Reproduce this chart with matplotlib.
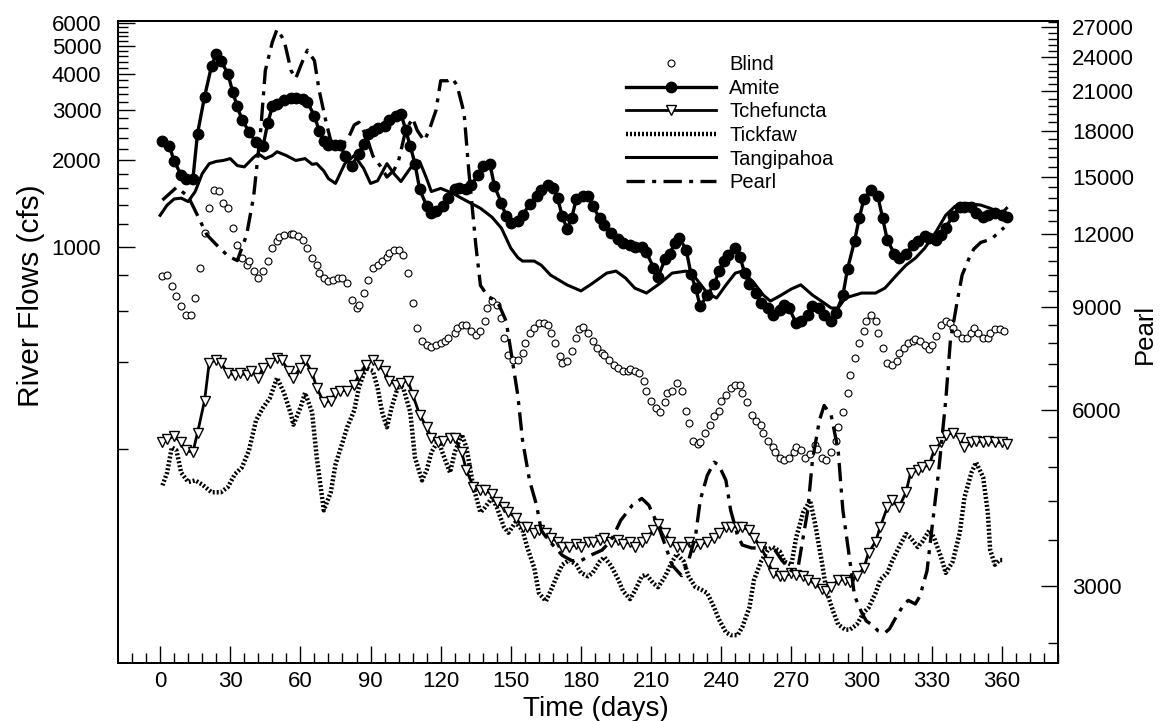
import matplotlib.pyplot as plt
from matplotlib.ticker import FixedLocator, FuncFormatter, NullFormatter

plt.rcParams['font.family'] = ['Liberation Sans', 'DejaVu Sans']

# daily river flows, cfs (Pearl on its own right-hand scale)
blind_day = [1, 3, 5, 7, 9, 11, 13, 15, 17, 19, 21, 23, 25, 27, 29, 31, 33, 35, 37, 38,
             40, 42, 44, 46, 48, 50, 51, 53, 56, 57, 59, 61, 63, 65, 67, 68, 70, 72, 74, 76,
             78, 80, 82, 84, 85, 87, 89, 91, 93, 95, 97, 98, 100, 102, 104, 106, 108, 110, 112, 114,
             116, 118, 120, 122, 123, 126, 127, 129, 131, 133, 135, 137, 139, 140, 142, 144, 146, 147, 149, 151,
             153, 155, 156, 158, 160, 162, 164, 166, 167, 169, 171, 172, 174, 176, 178, 179, 181, 183, 185, 187,
             189, 190, 192, 194, 196, 198, 200, 201, 203, 205, 207, 208, 210, 212, 214, 216, 217, 219, 221, 223,
             225, 226, 228, 230, 231, 233, 235, 237, 239, 240, 242, 244, 246, 248, 249, 251, 253, 255, 257, 258,
             260, 262, 263, 265, 267, 269, 271, 272, 274, 276, 278, 280, 281, 283, 285, 287, 289, 290, 292, 294,
             295, 297, 299, 301, 302, 304, 306, 307, 309, 311, 313, 315, 316, 318, 320, 322, 323, 325, 327, 329,
             330, 332, 334, 336, 338, 339, 341, 343, 345, 347, 348, 350, 352, 354, 355, 357, 359, 361]
blind_cfs = [794, 800, 733, 677, 625, 582, 582, 666, 846, 1118, 1365, 1575, 1562, 1420, 1365, 1164, 1016, 916, 866, 895,
             826, 782, 826, 895, 992, 1049, 1083, 1101, 1109, 1109, 1092, 1057, 992, 916, 866, 813, 782, 763, 769, 782,
             782, 751, 656, 615, 630, 693, 769, 846, 866, 895, 923, 953, 976, 976, 938, 813, 640, 525, 473, 458,
             451, 458, 466, 473, 485, 504, 525, 537, 537, 512, 496, 512, 555, 615, 650, 630, 568, 485, 423, 406,
             406, 430, 466, 504, 525, 546, 546, 537, 504, 466, 420, 397, 403, 437, 485, 520, 528, 504, 473, 447,
             430, 423, 406, 391, 381, 372, 372, 378, 372, 366, 344, 318, 293, 277, 267, 289, 312, 318, 339, 318,
             271, 246, 213, 208, 210, 227, 242, 260, 271, 293, 308, 325, 333, 333, 312, 289, 262, 250, 242, 227,
             213, 202, 194, 185, 182, 185, 194, 202, 197, 186, 191, 206, 200, 185, 182, 194, 213, 237, 267, 312,
             360, 413, 466, 512, 555, 582, 555, 504, 447, 397, 391, 403, 430, 447, 466, 473, 480, 473, 458, 444,
             458, 492, 537, 555, 546, 525, 504, 485, 485, 504, 525, 504, 485, 485, 504, 520, 520, 512]

amite_day = [1, 4, 6, 9, 11, 14, 16, 19, 22, 24, 26, 29, 31, 33, 35, 38, 41, 44, 46, 48,
             50, 53, 56, 58, 61, 63, 66, 68, 70, 72, 75, 77, 79, 82, 85, 87, 89, 91, 93, 96,
             98, 101, 103, 105, 107, 109, 111, 114, 116, 118, 121, 123, 126, 128, 131, 133, 136, 138, 141, 143,
             146, 148, 150, 153, 155, 158, 161, 163, 166, 168, 170, 172, 174, 176, 178, 181, 183, 185, 188, 190,
             193, 196, 198, 201, 203, 206, 208, 211, 213, 216, 218, 220, 222, 225, 227, 229, 231, 234, 237, 239,
             241, 243, 246, 248, 250, 252, 255, 257, 260, 262, 265, 267, 269, 272, 274, 277, 279, 282, 284, 287,
             289, 292, 294, 297, 299, 301, 304, 307, 309, 311, 314, 316, 319, 322, 324, 327, 329, 332, 334, 336,
             339, 342, 344, 347, 349, 352, 354, 357, 360, 362]
amite_cfs = [2330, 2240, 1990, 1780, 1720, 1720, 2480, 3330, 4260, 4690, 4440, 4000, 3470, 3080, 2770, 2520, 2310, 2240, 2690, 3080,
             3150, 3250, 3300, 3300, 3280, 3180, 2860, 2540, 2330, 2270, 2270, 2270, 2080, 1920, 2110, 2290, 2480, 2540, 2600, 2640,
             2770, 2860, 2910, 2560, 2240, 1950, 1590, 1390, 1310, 1340, 1390, 1480, 1590, 1610, 1590, 1640, 1780, 1910, 1950, 1630,
             1420, 1280, 1210, 1230, 1290, 1410, 1500, 1580, 1640, 1610, 1480, 1280, 1160, 1260, 1470, 1510, 1500, 1390, 1260, 1190,
             1120, 1070, 1030, 1020, 1000, 1000, 960, 850, 790, 910, 950, 1030, 1080, 980, 810, 720, 625, 680, 745, 825,
             895, 940, 990, 925, 815, 745, 695, 640, 615, 580, 605, 630, 615, 545, 555, 580, 625, 615, 580, 555,
             590, 680, 840, 1050, 1260, 1470, 1580, 1500, 1260, 1060, 950, 915, 950, 1020, 1050, 1090, 1080, 1060, 1100, 1170,
             1280, 1380, 1380, 1380, 1310, 1270, 1290, 1310, 1290, 1270]

tchef_day = [1, 3, 6, 9, 11, 14, 16, 19, 21, 24, 26, 29, 32, 34, 37, 39, 42, 44, 47, 50,
             52, 55, 57, 60, 62, 65, 67, 70, 73, 75, 77, 80, 83, 85, 88, 91, 93, 96, 98, 101,
             103, 106, 108, 111, 114, 116, 119, 121, 124, 126, 129, 131, 134, 137, 139, 142, 144, 147, 149, 152,
             155, 157, 160, 162, 165, 167, 170, 172, 175, 178, 180, 183, 185, 188, 190, 193, 196, 198, 201, 203,
             206, 208, 211, 213, 216, 218, 221, 223, 226, 228, 231, 234, 237, 239, 242, 244, 247, 249, 252, 254,
             257, 260, 262, 265, 267, 270, 272, 275, 277, 280, 283, 285, 287, 290, 293, 295, 298, 301, 303, 306,
             308, 311, 313, 316, 319, 321, 324, 326, 329, 331, 334, 336, 339, 342, 344, 347, 349, 352, 354, 357,
             360, 362]
tchef_cfs = [210, 215, 221, 210, 197, 194, 227, 293, 397, 406, 397, 366, 360, 366, 360, 372, 352, 381, 397, 413,
             406, 372, 352, 381, 406, 366, 325, 289, 293, 312, 318, 318, 333, 360, 391, 406, 391, 372, 344, 333,
             339, 344, 308, 262, 237, 218, 210, 213, 218, 217, 194, 168, 147, 143, 143, 139, 130, 125, 120, 115,
             107, 107, 102, 104, 102, 98, 95, 91, 91, 93, 91, 95, 95, 96, 98, 95, 96, 93, 95, 91,
             95, 98, 104, 109, 102, 95, 91, 91, 95, 91, 93, 95, 98, 102, 107, 107, 107, 107, 104, 98,
             91, 81, 74, 72, 72, 74, 73, 72, 70, 68, 65, 64, 66, 70, 70, 69, 72, 77, 87, 95,
             107, 125, 132, 125, 141, 165, 168, 172, 176, 197, 210, 223, 227, 218, 202, 210, 213, 210, 213, 210,
             210, 208]

tickfaw_day = [1, 3, 5, 7, 9, 12, 15, 18, 22, 26, 29, 32, 35, 38, 41, 44, 47, 50, 53, 56,
               57, 60, 62, 65, 67, 70, 73, 75, 78, 80, 83, 85, 88, 91, 93, 95, 97, 99, 102, 104,
               107, 109, 112, 114, 116, 119, 121, 124, 126, 129, 131, 134, 137, 139, 142, 144, 147, 149, 152, 155,
               157, 160, 162, 165, 167, 170, 172, 175, 178, 180, 183, 185, 188, 190, 193, 196, 198, 201, 203, 206,
               208, 211, 213, 216, 219, 221, 224, 226, 229, 231, 234, 237, 239, 242, 244, 247, 249, 252, 254, 257,
               260, 262, 265, 267, 270, 272, 275, 278, 280, 283, 285, 288, 290, 293, 295, 298, 301, 303, 306, 308,
               311, 313, 316, 319, 321, 324, 326, 329, 331, 334, 336, 339, 342, 344, 347, 349, 352, 354, 355, 357,
               359, 361]
tickfaw_cfs = [149, 165, 202, 197, 165, 153, 155, 150, 141, 141, 147, 163, 172, 197, 250, 277, 300, 352, 312, 262,
               242, 277, 312, 267, 186, 122, 141, 176, 210, 237, 271, 325, 381, 372, 325, 267, 237, 277, 333, 325,
               267, 186, 155, 168, 194, 213, 191, 165, 194, 224, 202, 147, 120, 125, 135, 125, 107, 102, 111, 104,
               91, 77, 63, 59, 64, 73, 79, 82, 79, 74, 72, 74, 81, 84, 78, 70, 64, 60, 64, 72,
               73, 68, 66, 72, 81, 86, 81, 72, 66, 65, 63, 56, 51, 46, 45, 45, 48, 56, 70, 81,
               89, 91, 88, 81, 79, 98, 120, 132, 111, 81, 64, 54, 49, 47, 47, 49, 54, 56, 63, 70,
               74, 81, 91, 101, 98, 91, 95, 104, 98, 84, 74, 81, 102, 135, 165, 179, 159, 120, 89, 79,
               82, 82]

tangi_day = [0, 3, 6, 9, 12, 15, 18, 21, 24, 27, 30, 33, 36, 40, 42, 45, 48, 50, 54, 58,
             62, 65, 67, 70, 72, 75, 79, 83, 87, 90, 93, 97, 100, 103, 107, 111, 114, 116, 120, 125,
             129, 133, 137, 142, 146, 150, 153, 155, 160, 163, 167, 174, 180, 185, 191, 195, 199, 203, 208, 214,
             219, 225, 229, 234, 238, 242, 246, 249, 254, 258, 261, 265, 270, 274, 279, 284, 287, 290, 293, 300,
             306, 310, 315, 319, 323, 327, 332, 336, 340, 345, 351, 355, 360, 362]
tangi_cfs = [1290, 1400, 1470, 1480, 1440, 1560, 1800, 1950, 1985, 2000, 2030, 1920, 1900, 2050, 2110, 2030, 2080, 2145, 2080, 2000,
             2030, 1940, 1950, 1840, 1730, 1665, 1950, 2080, 1880, 1665, 1700, 1950, 1800, 1690, 1880, 1985, 1730, 1560, 1600, 1540,
             1478, 1420, 1365, 1270, 1164, 992, 920, 895, 895, 866, 800, 740, 705, 750, 813, 826, 782, 721, 693, 751,
             813, 826, 782, 693, 666, 739, 813, 826, 751, 682, 650, 677, 716, 740, 682, 640, 615, 615, 666, 693,
             693, 721, 800, 866, 916, 992, 1136, 1291, 1387, 1420, 1400, 1365, 1312, 1365]

pearl_day = [1, 7, 12, 16, 20, 24, 29, 33, 37, 40, 43, 45, 48, 50, 53, 56, 58, 61, 63, 66,
             68, 71, 73, 77, 80, 83, 85, 88, 91, 94, 97, 100, 102, 105, 108, 110, 113, 115, 118, 120,
             123, 125, 127, 130, 132, 135, 137, 140, 143, 145, 148, 150, 153, 155, 158, 161, 163, 166, 168, 172,
             176, 180, 184, 189, 193, 197, 202, 206, 209, 213, 216, 219, 223, 226, 229, 231, 234, 237, 239, 242,
             244, 247, 249, 253, 256, 260, 263, 266, 270, 273, 277, 279, 282, 284, 287, 290, 292, 295, 297, 300,
             302, 305, 307, 310, 312, 315, 318, 320, 323, 325, 328, 330, 333, 336, 338, 341, 343, 346, 348, 351,
             354, 356, 359, 361]
pearl_cfs = [13700, 14400, 13900, 12900, 11950, 11500, 11000, 10800, 11950, 13900, 18000, 22800, 25500, 26800, 25700, 22800, 22100, 23700, 24700, 23700,
             21100, 18600, 17300, 17000, 17300, 18400, 18600, 17700, 16300, 15700, 15000, 15400, 16000, 18000, 18900, 18000, 17300, 18000, 19500, 21900,
             21900, 22100, 21500, 19300, 15400, 11500, 9800, 9400, 9240, 9060, 8510, 7580, 6350, 5330, 4550, 4130, 3740, 3600, 3530, 3390,
             3320, 3320, 3390, 3460, 3600, 3890, 4130, 4240, 4130, 3810, 3530, 3260, 3130, 3320, 3660, 4210, 4640, 4890, 4830, 4550,
             4050, 3660, 3530, 3490, 3490, 3490, 3460, 3320, 3190, 3260, 4050, 4930, 5770, 6110, 5880, 5120, 4050, 3320, 2890, 2710,
             2620, 2570, 2520, 2500, 2540, 2670, 2790, 2840, 2800, 2890, 3190, 3740, 4730, 6230, 7890, 9240, 10200, 10900, 11300, 11600,
             11700, 11800, 12100, 12300]

flow_ticks = [1000, 2000, 3000, 4000, 5000, 6000]
pearl_ticks = [3000, 6000, 9000, 12000, 15000, 18000, 21000, 24000, 27000]
day_ticks = list(range(0, 361, 30))

fig = plt.figure(figsize=(11.64, 7.21), dpi=100)
ax = fig.add_axes([0.1014, 0.0804, 0.8075, 0.8905])
ax2 = ax.twinx()

ax.plot(tickfaw_day, tickfaw_cfs, color='black', lw=3.2, ls=(0, (0.45, 0.45)),
        label='Tickfaw', zorder=2)
ax.plot(tangi_day, tangi_cfs, color='black', lw=2.2, label='Tangipahoa', zorder=3)
ax.plot(tchef_day, tchef_cfs, color='black', lw=2.0, marker='v', ms=7.5,
        mfc='white', mec='black', mew=1.0, label='Tchefuncta', zorder=4)
ax.plot(blind_day, blind_cfs, ls='none', marker='o', ms=5, mfc='white',
        mec='black', mew=0.8, label='Blind', zorder=3)
ax.plot(amite_day, amite_cfs, color='black', lw=2.4, marker='o', ms=7.5,
        label='Amite', zorder=5)
ax2.plot(pearl_day, pearl_cfs, color='black', lw=2.4,
         ls=(0, (5.5, 2.2, 1.2, 2.2)), label='Pearl')

ax.set_xlim(-18, 384)
ax.set_yscale('log')
ax.set_ylim(36, 6100)
ax2.set_yscale('log')
ax2.set_ylim(2220, 27700)

plain = FuncFormatter(lambda v, p: '%d' % round(v))
ax.xaxis.set_major_locator(FixedLocator(day_ticks))
ax.xaxis.set_minor_locator(FixedLocator([d for d in range(-12, 385, 6) if d % 30]))
ax.yaxis.set_major_locator(FixedLocator(flow_ticks))
ax.yaxis.set_major_formatter(plain)
ax.yaxis.set_minor_locator(FixedLocator([v for v in range(200, 6001, 200) if v % 1000]))
ax.yaxis.set_minor_formatter(NullFormatter())
ax2.yaxis.set_major_locator(FixedLocator(pearl_ticks))
ax2.yaxis.set_major_formatter(plain)
ax2.yaxis.set_minor_locator(FixedLocator([v for v in range(2400, 27700, 600) if v % 3000]))
ax2.yaxis.set_minor_formatter(NullFormatter())

for a in (ax, ax2):
    a.tick_params(which='both', direction='in', width=1.0, colors='black')
    a.tick_params(which='major', length=12, labelsize=16)
    a.tick_params(which='minor', length=7)
    for s in a.spines.values():
        s.set_linewidth(1.3)
ax.tick_params(axis='y', which='major', pad=12)
ax.tick_params(axis='x', which='major', pad=6)
ax2.tick_params(axis='y', which='major', pad=10)

ax.set_xlabel('Time (days)', fontsize=20)
ax.xaxis.set_label_coords(0.5085, -0.052)
ax.set_ylabel('River Flows (cfs)', fontsize=21.5)
ax.yaxis.set_label_coords(-0.078, 0.572)
ax2.set_ylabel('Pearl', fontsize=18.5)
ax2.yaxis.set_label_coords(1.080, 0.512)

h1, l1 = ax.get_legend_handles_labels()
h2, l2 = ax2.get_legend_handles_labels()
handles = dict(zip(l1 + l2, h1 + h2))
order = ['Blind', 'Amite', 'Tchefuncta', 'Tickfaw', 'Tangipahoa', 'Pearl']
fig.legend([handles[k] for k in order], order, loc='upper left',
           bbox_to_anchor=(0.5378, 0.9237), frameon=False, fontsize=14.5,
           handlelength=4.45, handletextpad=0.68, labelspacing=0.23,
           borderpad=0, borderaxespad=0, numpoints=1)

fig.savefig('out.png', dpi=100)
